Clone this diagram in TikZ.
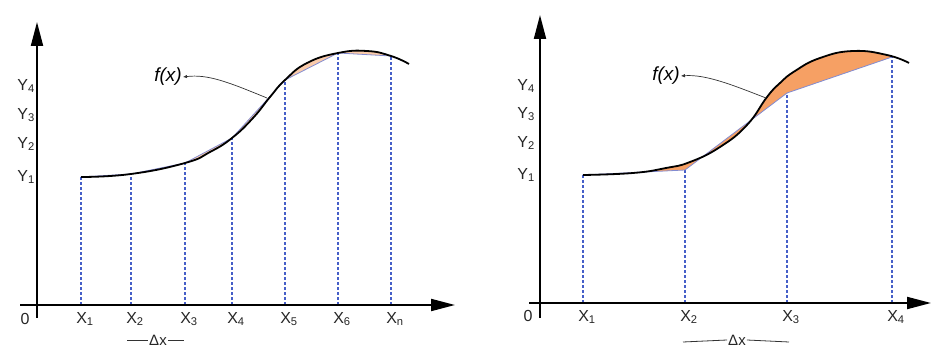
\documentclass[tikz,border=0pt]{standalone}
\usepackage{fontspec}
\setmainfont{Liberation Sans}
\usetikzlibrary{arrows.meta}
\definecolor{dashblue}{RGB}{70,95,200}
\definecolor{chordblue}{RGB}{130,140,210}
\definecolor{fillorange}{RGB}{246,160,100}
\tikzset{
  axisline/.style={line width=2pt, -{Triangle[length=24pt,width=12pt]}},
  curveline/.style={line width=1.8pt, black},
  ordinate/.style={dashblue, line width=1.1pt, dash pattern=on 3pt off 2pt},
  chordline/.style={chordblue, line width=0.8pt},
  lbl/.style={font=\fontsize{16}{18}\selectfont, inner sep=0pt, text=black!85},
  dxlbl/.style={font=\fontsize{15}{17}\selectfont, inner sep=1pt, text=black!85},
  fxlbl/.style={font=\fontsize{19}{21}\selectfont\itshape, inner sep=1pt},
  pointer/.style={line width=0.7pt, black!80, -{Latex[length=4pt,width=3.5pt]}},
  dxline/.style={line width=0.8pt, black!80},
}
\newcommand\mysub[2]{#1\textsubscript{#2}}
\begin{document}
\begin{tikzpicture}[x=1pt,y=-1pt]
\useasboundingbox (0,0) rectangle (932,347);

% ================= LEFT PANEL =================
\coordinate (L1t) at (81,177);  \coordinate (L1b) at (81,305);
\coordinate (L2t) at (131,174); \coordinate (L2b) at (131,305);
\coordinate (L3t) at (185,163); \coordinate (L3b) at (185,305);
\coordinate (L4t) at (232,138); \coordinate (L4b) at (232,305);
\coordinate (L5t) at (285,80);  \coordinate (L5b) at (285,305);
\coordinate (L6t) at (338,53);  \coordinate (L6b) at (338,305);
\coordinate (Lnt) at (391,56);  \coordinate (Lnb) at (391,305);

\begin{scope}
  \clip (81,0) rectangle (391,347);
  \fill[fillorange, opacity=0.55] plot[smooth, tension=0.8] coordinates
    {(81,177) (131,174) (185,163) (210,152) (232,138) (253,118) (270,97) (285,80) (307,63) (338,53) (367,51) (391,56) (409,64)}
    -- (Lnt) -- (L6t) -- (L5t) -- (L4t) -- (L3t) -- (L2t) -- (L1t) -- cycle;
\end{scope}

\foreach \i in {1,2,3,4,5,6,n} \draw[ordinate] (L\i b) -- (L\i t);
\draw[chordline] (L1t) -- (L2t) -- (L3t) -- (L4t) -- (L5t) -- (L6t) -- (Lnt);

\draw[curveline] plot[smooth, tension=0.8] coordinates
  {(81,177) (131,174) (185,163) (210,152) (232,138) (253,118) (270,97) (285,80) (307,63) (338,53) (367,51) (391,56) (409,64)};

\coordinate (LxS) at (20,305);  \coordinate (LxE) at (455,305);
\coordinate (LyS) at (37,318);  \coordinate (LyE) at (37,22);
\draw[axisline] (LxS) -- (LxE);
\draw[axisline] (LyS) -- (LyE);

\node[lbl] (L0) at (25,319) {0};
\node[lbl] (LX1) at (85,319) {\mysub{X}{1}};
\node[lbl] (LX2) at (135,319) {\mysub{X}{2}};
\node[lbl] (LX3) at (189,319) {\mysub{X}{3}};
\node[lbl] (LX4) at (236,319) {\mysub{X}{4}};
\node[lbl] (LX5) at (289,319) {\mysub{X}{5}};
\node[lbl] (LX6) at (342,319) {\mysub{X}{6}};
\node[lbl] (LXn) at (395,319) {\mysub{X}{n}};

\node[lbl, anchor=east] (LY4) at (35,86) {\mysub{Y}{4}};
\node[lbl, anchor=east] (LY3) at (35,115) {\mysub{Y}{3}};
\node[lbl, anchor=east] (LY2) at (35,144) {\mysub{Y}{2}};
\node[lbl, anchor=east] (LY1) at (35,177) {\mysub{Y}{1}};

\node[fxlbl] (Lfx) at (168,77) {f(x)};
\coordinate (Lfxp) at (267,98);
\draw[pointer] (Lfxp) .. controls (228,82) and (208,74) .. (Lfx.east);

\node[dxlbl] (Ldx) at (158,340) {Δx};
\coordinate (LdxS) at (127,340); \coordinate (LdxE) at (184,340);
\draw[dxline] (LdxS) -- (Ldx.west);
\draw[dxline] (Ldx.east) -- (LdxE);

% ================= RIGHT PANEL =================
\coordinate (R1t) at (583,175); \coordinate (R1b) at (583,303);
\coordinate (R2t) at (685,170); \coordinate (R2b) at (685,303);
\coordinate (R3t) at (787,93);  \coordinate (R3b) at (787,303);
\coordinate (R4t) at (892,57);  \coordinate (R4b) at (892,303);

\begin{scope}
  \clip (583,0) rectangle (892,347);
  \fill[fillorange] plot[smooth, tension=0.8] coordinates
    {(583,175) (633,173) (666,168) (690,162) (720,147) (747,125) (767,97) (780,83) (795,71) (820,58) (853,51) (887,55) (909,63)}
    -- (R4t) -- (R3t) -- (R2t) -- (R1t) -- cycle;
\end{scope}

\foreach \i in {1,2,3,4} \draw[ordinate] (R\i b) -- (R\i t);
\draw[chordline] (R1t) -- (R2t) -- (R3t) -- (R4t);

\draw[curveline] plot[smooth, tension=0.8] coordinates
  {(583,175) (633,173) (666,168) (690,162) (720,147) (747,125) (767,97) (780,83) (795,71) (820,58) (853,51) (887,55) (909,63)};

\coordinate (RxS) at (529,303); \coordinate (RxE) at (931,303);
\coordinate (RyS) at (540,318); \coordinate (RyE) at (540,15);
\draw[axisline] (RxS) -- (RxE);
\draw[axisline] (RyS) -- (RyE);

\node[lbl] (R0) at (528,316) {0};
\node[lbl] (RX1) at (587,317) {\mysub{X}{1}};
\node[lbl] (RX2) at (689,317) {\mysub{X}{2}};
\node[lbl] (RX3) at (791,317) {\mysub{X}{3}};
\node[lbl] (RX4) at (896,317) {\mysub{X}{4}};

\node[lbl, anchor=east] (RY4) at (535,86) {\mysub{Y}{4}};
\node[lbl, anchor=east] (RY3) at (535,114) {\mysub{Y}{3}};
\node[lbl, anchor=east] (RY2) at (535,143) {\mysub{Y}{2}};
\node[lbl, anchor=east] (RY1) at (535,175) {\mysub{Y}{1}};

\node[fxlbl] (Rfx) at (666,76) {f(x)};
\coordinate (Rfxp) at (766,98);
\draw[pointer] (Rfxp) .. controls (735,86) and (706,74) .. (Rfx.east);

\node[dxlbl] (Rdx) at (737,340) {Δx};
\coordinate (RdxS) at (683,342); \coordinate (RdxE) at (789,342);
\draw[dxline] (RdxS) -- (Rdx.west);
\draw[dxline] (Rdx.east) -- (RdxE);
\end{tikzpicture}
\end{document}
